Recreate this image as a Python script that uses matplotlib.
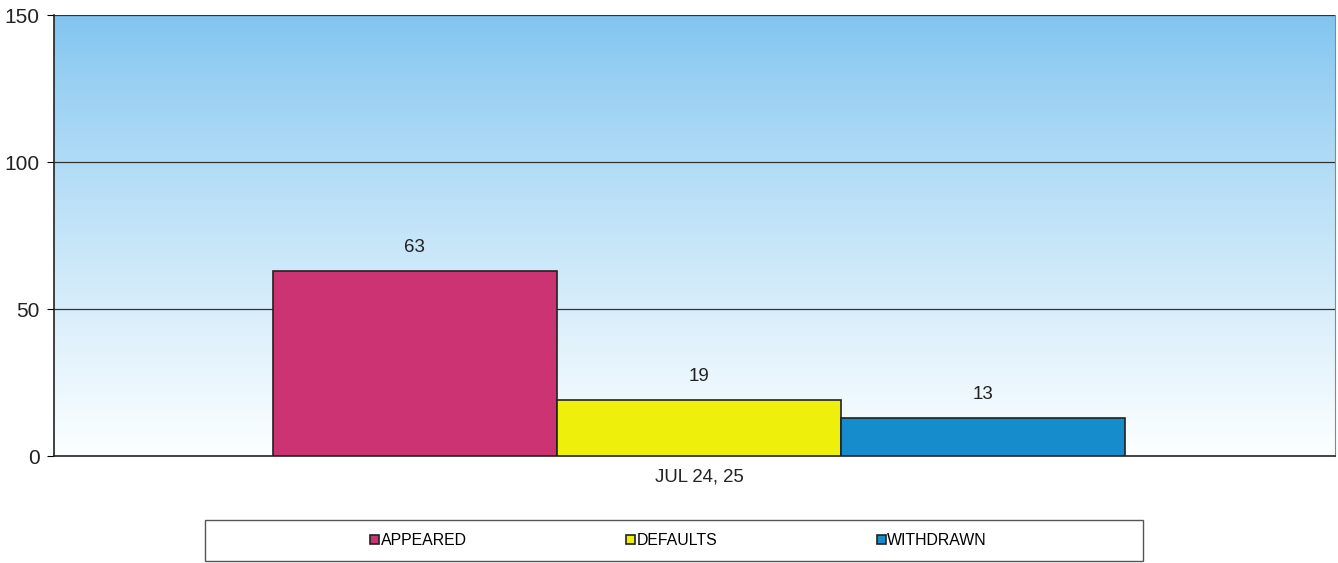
import matplotlib
matplotlib.use("Agg")
import matplotlib.pyplot as plt
import numpy as np
from matplotlib.patches import Rectangle

plt.rcParams["font.family"] = ["Liberation Sans", "DejaVu Sans"]

# data
category = "JUL 24, 25"
series = ["APPEARED", "DEFAULTS", "WITHDRAWN"]
values = [63, 19, 13]
colors = ["#CC3372", "#EEF00C", "#168CCC"]
yticks = [0, 50, 100, 150]

fig = plt.figure(figsize=(13.38, 5.63), dpi=100)
ax = fig.add_axes([0.040, 0.190, 0.958, 0.783])

# gradient background: light blue on top fading to white at bottom
top = np.array([0.50, 0.77, 0.94])
bot = np.array([0.99, 1.0, 1.0])
t = np.linspace(0, 1, 256)[:, None] ** 0.85
grad = (top * (1 - t) + bot * t)[:, None, :]
grad = np.repeat(grad, 2, axis=1)
x0, x1 = -0.5035, 0.4965
ax.imshow(grad, extent=[x0, x1, 0, 150], aspect="auto", zorder=0)

ax.set_xlim(x0, x1)
ax.set_ylim(0, 150)

width = 0.2217
offsets = [-width, 0, width]
for name, v, c, off in zip(series, values, colors, offsets):
    ax.bar(off, v, width=width, color=c, edgecolor="#222222", linewidth=1.2,
           label=name, zorder=3)
    ax.text(off, v + 5, str(v), ha="center", va="bottom", fontsize=13.5, color="#222222")

for y in yticks[1:]:
    ax.axhline(y, color="#333333", linewidth=0.9, zorder=1)

ax.set_yticks(yticks)
ax.set_yticklabels([str(y) for y in yticks], fontsize=15, color="#222222")
ax.set_xticks([0])
ax.set_xticklabels([category], fontsize=13.4, color="#222222")
ax.tick_params(axis="y", length=5, width=0.8, pad=5)
ax.tick_params(axis="x", length=0, pad=9)

for s in ["top", "right"]:
    ax.spines[s].set_visible(False)
ax.spines["left"].set_color("#222222")
ax.spines["left"].set_linewidth(1.2)
ax.spines["bottom"].set_color("#222222")
ax.spines["bottom"].set_linewidth(1.2)
ax.plot([1, 1], [0, 1], transform=ax.transAxes, color="#888888", linewidth=0.8,
        clip_on=False, zorder=2)

# legend box below the plot
box = Rectangle((205 / 1338, 2 / 563), 938 / 1338, 41 / 563, transform=fig.transFigure,
                facecolor="white", edgecolor="#555555", linewidth=1.0)
fig.patches.append(box)
leg = fig.legend(loc="center", bbox_to_anchor=(0.5072, 0.04, 0, 0), ncol=3,
                 fontsize=11.4, frameon=False,
                 handlelength=0.55, handleheight=0.55, handletextpad=0.1,
                 columnspacing=10.08)

fig.savefig("out.png", dpi=100)
